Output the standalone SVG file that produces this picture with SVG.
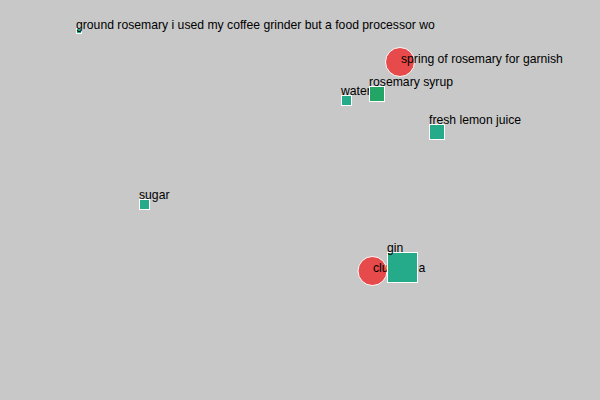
<svg xmlns="http://www.w3.org/2000/svg" width="600" height="400" viewBox="0 0 600 400">
<style>
text{font-family:"Liberation Sans",Arial,sans-serif;font-size:12.2px;fill:#000}
.sq{fill:#26ab8a;stroke:#fff;stroke-width:1}
.sq2{fill:#23a566;stroke:#fff;stroke-width:1}
.ci{fill:#e64a4a;stroke:#fff;stroke-width:1}
</style>
<rect width="600" height="400" fill="#c8c8c8"/>
<g id="connectors"></g>
<g id="n-ground-rosemary"><rect class="sq" x="76.5" y="28.5" width="5" height="5"/><text x="76" y="29">ground rosemary i used my coffee grinder but a food processor wo</text></g>
<g id="n-spring"><circle class="ci" cx="400" cy="62" r="14.5"/><text x="401" y="63">spring of rosemary for garnish</text></g>
<g id="n-water"><rect class="sq" x="341.5" y="95.5" width="10" height="10"/><text x="341" y="95">water</text></g>
<g id="n-rosemary-syrup"><rect class="sq2" x="369.5" y="86.5" width="15" height="15"/><text x="369" y="86">rosemary syrup</text></g>
<g id="n-lemon"><rect class="sq" x="429.5" y="124.5" width="15" height="15"/><text x="429" y="124">fresh lemon juice</text></g>
<g id="n-sugar"><rect class="sq" x="139.5" y="199.5" width="10" height="10"/><text x="139" y="199">sugar</text></g>
<g id="n-club-soda"><circle class="ci" cx="372.5" cy="271" r="14.5"/><text x="373" y="272">club soda</text></g>
<g id="n-gin"><rect class="sq" x="387.5" y="252.5" width="30" height="30"/><text x="387" y="252">gin</text></g>
</svg>
